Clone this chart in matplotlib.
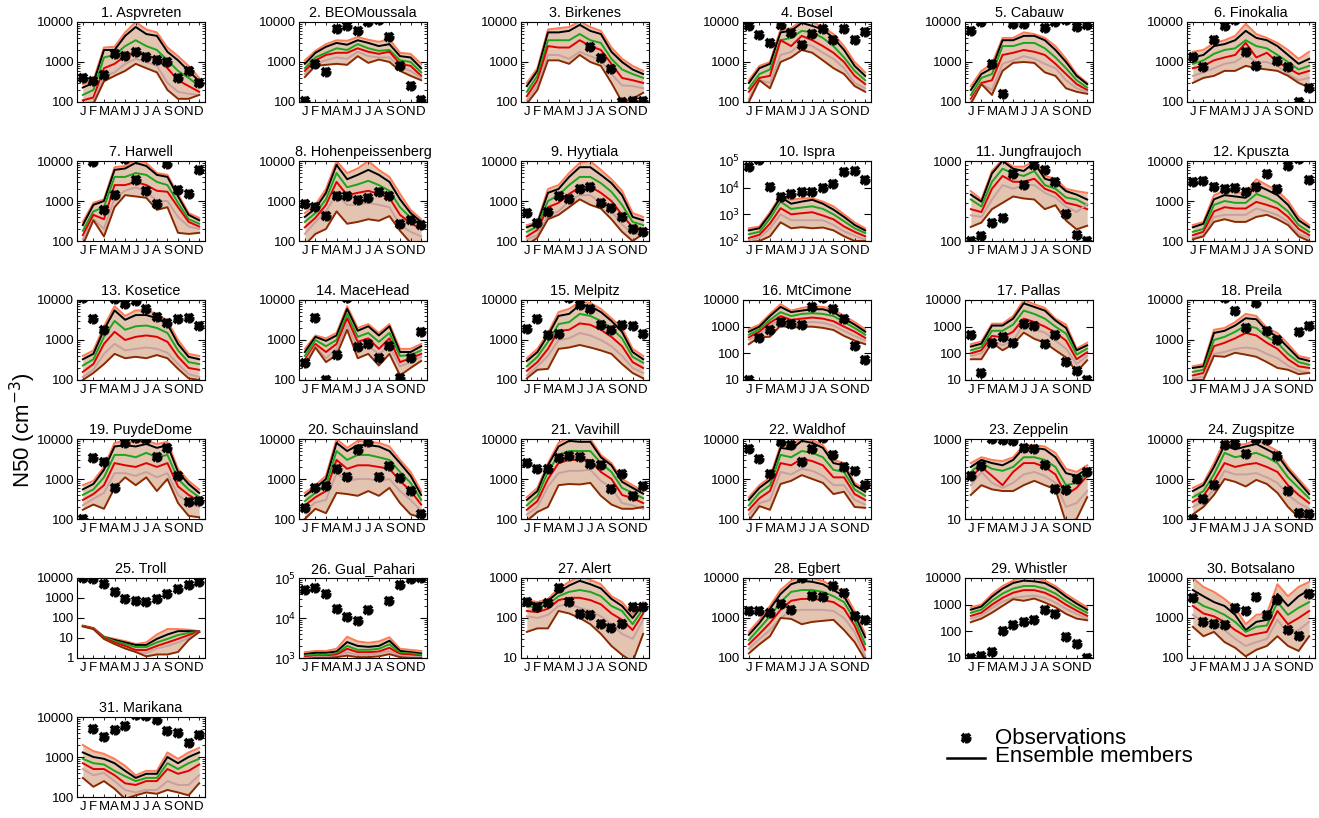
import numpy as np
import matplotlib
matplotlib.use("Agg")
import matplotlib.pyplot as plt
from matplotlib.ticker import LogLocator, FixedLocator, NullFormatter, FuncFormatter

plt.rcParams['font.family'] = ['Liberation Sans', 'DejaVu Sans']
nan = float('nan')

months = ['J', 'F', 'M', 'A', 'M', 'J', 'J', 'A', 'S', 'O', 'N', 'D']

stations = ['Aspvreten', 'BEOMoussala', 'Birkenes', 'Bosel', 'Cabauw', 'Finokalia',
            'Harwell', 'Hohenpeissenberg', 'Hyytiala', 'Ispra', 'Jungfraujoch', 'Kpuszta',
            'Kosetice', 'MaceHead', 'Melpitz', 'MtCimone', 'Pallas', 'Preila',
            'PuydeDome', 'Schauinsland', 'Vavihill', 'Waldhof', 'Zeppelin', 'Zugspitze',
            'Troll', 'Gual_Pahari', 'Alert', 'Egbert', 'Whistler', 'Botsalano',
            'Marikana']

ylo = [100, 100, 100, 100, 100, 100,
       100, 100, 100, 100, 100, 100,
       100, 100, 100, 10, 10, 100,
       100, 100, 100, 100, 10, 100,
       1, 1000, 10, 100, 10, 100,
       100]
yhi = [10000, 10000, 10000, 10000, 10000, 10000,
       10000, 10000, 10000, 100000, 1000, 10000,
       10000, 10000, 10000, 10000, 10000, 10000,
       10000, 10000, 10000, 10000, 1000, 10000,
       10000, 100000, 1000, 10000, 10000, 10000,
       10000]
power_labels = ['Ispra', 'Gual_Pahari']

obs = [
    [400, 330, 470, 1600, 1450, 1800, 1300, 1100, 1000, 400, 600, 300],
    [105, 900, 550, 6500, 7800, 6000, 10000, 11500, 4300, 800, 250, 110],
    [nan, nan, nan, nan, nan, nan, 2400, 1250, 650, 100, 105, 105],
    [8000, 4800, 3000, 8500, 5200, 2600, 5000, 6500, 3600, 6500, 3500, 5500],
    [6000, 10000, 900, 160, 9000, 9000, nan, 7200, 10000, 11000, 7500, 8500],
    [1300, 750, 3500, 8000, 11000, 1800, 800, nan, 1050, 750, 100, 230],
    [nan, 9500, 600, 1400, 11000, 3300, 1800, 850, 8500, 1900, 1500, 6000],
    [850, 700, 430, 1300, 1300, 1050, 1200, 1700, 1300, 260, 330, 250],
    [500, 280, 520, 1300, 1100, 2000, 2200, 900, 650, 400, 200, 170],
    [60000, 110000, 10500, 4500, 6000, 7000, 7000, 9500, 14000, 38000, 42000, 19000],
    [100, 115, 170, 195, 690, 500, 900, 780, 550, 220, 120, 100],
    [3000, 3100, 2300, 2000, 2100, 1700, 2300, 4700, 2000, 7500, 11000, 3300],
    [11000, 3300, 1800, 10500, 8000, 9500, 6000, 3800, 2600, 3400, 3500, 2200],
    [260, 3500, 100, 430, 11000, 650, 800, 350, 720, 110, 360, 1600],
    [1900, 3400, 1350, 1400, 11000, 7500, 6000, 2400, 1800, 2400, 2300, 1450],
    [10, 380, 780, 1500, 1300, 1150, 5500, 12000, 4800, 1900, 190, 55],
    [500, 18, 250, 420, 250, 1300, 1100, 230, 500, 48, 22, 10],
    [nan, nan, nan, 11000, 5300, 2000, 8500, 1700, 1000, nan, 1600, 2200],
    [100, 3300, 2700, 600, 8000, 10500, 10000, 3600, 5800, 1200, 260, 280],
    [190, 580, 680, 1800, 1100, 5200, 8500, 1100, 2100, 1050, 510, 130],
    [2500, 1750, 1800, 3300, 3800, 3600, 2400, 2300, 550, 1300, 370, 650],
    [5500, 3200, 1350, 8500, 7000, 2700, 5700, 10500, 4000, 1950, 1600, 720],
    [120, 210, 1000, 950, 900, 600, 560, 230, 55, 52, 100, 150],
    [100, 320, 700, 7000, 7500, 4300, 10000, 9200, 3800, 500, 140, 130],
    [9500, 8500, 5000, 2000, 900, 700, 650, 850, 1500, 2900, 4500, 6000],
    [50000, 55000, 40000, 17000, 10500, 8500, 16000, nan, 27000, 65000, 95000, 100000],
    [250, 190, 240, 550, 250, 125, 120, 72, 57, 70, 190, 190],
    [1500, 1500, 1350, 2300, 1600, 10000, 3500, 3300, 6200, 4200, 1150, 880],
    [10, 12, 17, 100, 170, 220, 270, 650, 430, 60, 33, 10],
    [3200, 800, 720, 650, 1750, 1500, 3400, 1200, 2900, 500, 350, 4000],
    [nan, 5000, 3100, 4700, 6000, 11000, 10500, 8200, 4500, 4000, 2300, 3500],
]

ens_top = [
    [280, 350, 2300, 2400, 5500, 10000, 6500, 5500, 2300, 1400, 800, 400],
    [1100, 1900, 2800, 3500, 3400, 4200, 3600, 3200, 3700, 1700, 1600, 900],
    [300, 700, 6500, 7000, 7500, 10500, 7500, 6000, 2300, 1200, 800, 600],
    [350, 800, 1000, 6500, 7000, 11000, 10000, 7500, 5000, 2500, 1000, 550],
    [250, 600, 900, 4000, 4000, 5500, 5000, 4000, 2500, 1200, 500, 300],
    [1800, 2000, 3000, 3500, 4500, 9000, 5000, 4000, 3000, 2000, 1200, 1800],
    [300, 900, 1100, 7000, 7500, 10500, 9000, 5000, 4500, 1500, 500, 380],
    [500, 800, 2000, 10000, 5000, 6500, 10000, 6000, 4000, 1500, 600, 350],
    [250, 300, 2000, 2500, 5000, 9000, 10000, 6000, 3500, 1800, 500, 400],
    [300, 350, 1200, 5000, 3500, 4000, 4000, 3000, 2000, 1000, 500, 300],
    [420, 330, 750, 1050, 850, 850, 1000, 650, 600, 450, 420, 400],
    [250, 300, 1400, 1800, 1700, 1500, 3500, 2500, 1800, 1000, 400, 250],
    [400, 550, 2200, 7000, 4000, 5500, 5500, 4500, 3000, 1000, 450, 400],
    [600, 1300, 1100, 1500, 7000, 2000, 2500, 1500, 2500, 600, 600, 800],
    [350, 600, 1500, 5000, 6000, 9000, 8500, 6000, 3500, 2000, 600, 400],
    [800, 1200, 3000, 7000, 4000, 5000, 6000, 5500, 4500, 2500, 1500, 800],
    [220, 280, 1300, 1300, 2500, 10000, 7000, 5000, 2000, 1200, 150, 250],
    [220, 250, 1800, 2000, 2800, 4500, 4000, 2000, 1500, 800, 400, 350],
    [700, 900, 2000, 8000, 9000, 8000, 9000, 7500, 8500, 1800, 900, 550],
    [450, 700, 1200, 10000, 6000, 9000, 8500, 8000, 6500, 3000, 1500, 500],
    [350, 600, 2500, 8000, 11000, 10000, 10000, 4000, 2500, 1000, 700, 500],
    [350, 700, 1100, 7000, 6500, 11000, 9500, 7000, 3000, 2500, 800, 550],
    [250, 350, 300, 280, 350, 700, 700, 650, 450, 180, 150, 220],
    [600, 800, 2500, 9000, 7000, 7500, 9500, 7000, 5000, 2000, 1000, 500],
    [42, 32, 12, 9, 7, 5, 6, 15, 28, 28, 26, 22],
    [1400, 1500, 1500, 1700, 3400, 2600, 2400, 2600, 3300, 1700, 1600, 1500],
    [280, 250, 300, 550, 800, 1100, 900, 700, 350, 250, 120, 250],
    [450, 900, 2000, 5000, 8500, 11000, 10000, 8500, 6000, 4500, 1500, 400],
    [800, 1000, 2500, 5000, 8000, 11000, 10000, 8000, 5000, 2500, 1400, 800],
    [10000, 6000, 4500, 3000, 1800, 700, 1200, 1300, 7000, 3500, 6000, 8000],
    [2000, 1400, 1200, 900, 600, 350, 450, 450, 1300, 900, 1300, 1700],
]

ens_upper = [
    [230, 300, 2000, 2000, 4500, 7500, 5000, 4500, 1800, 1100, 600, 330],
    [900, 1700, 2400, 3000, 2700, 3500, 3000, 2500, 2800, 1400, 1300, 700],
    [250, 600, 5500, 5500, 6000, 8500, 6000, 5000, 1800, 1000, 650, 500],
    [300, 700, 900, 5500, 6000, 9500, 8000, 6500, 4000, 2000, 800, 450],
    [200, 500, 700, 3500, 3500, 4500, 4500, 3500, 2000, 1000, 450, 280],
    [1300, 1500, 2500, 2800, 3500, 6000, 4000, 3500, 2500, 1500, 900, 1200],
    [250, 800, 1000, 6000, 6500, 9000, 7500, 4500, 4000, 1300, 450, 330],
    [400, 650, 1600, 8000, 3500, 4500, 6000, 4500, 3000, 1100, 500, 300],
    [220, 280, 1600, 2000, 4000, 7000, 7000, 4500, 2800, 1400, 400, 330],
    [250, 300, 1000, 4500, 2500, 3000, 3500, 2500, 1500, 800, 400, 250],
    [380, 310, 700, 1000, 800, 750, 950, 600, 550, 420, 380, 330],
    [220, 270, 1100, 1400, 1300, 1200, 2500, 1900, 1400, 800, 330, 220],
    [330, 450, 1800, 5500, 3200, 4200, 4200, 3500, 2500, 800, 380, 330],
    [500, 1200, 950, 1300, 6000, 1700, 2200, 1300, 2200, 500, 500, 700],
    [300, 500, 1300, 4000, 4500, 7500, 7000, 5000, 3000, 1600, 500, 330],
    [650, 1000, 2500, 5500, 3500, 4000, 4500, 4500, 3500, 2000, 1200, 650],
    [180, 230, 1100, 1100, 2000, 7500, 5500, 4000, 1700, 900, 130, 200],
    [200, 220, 1500, 1700, 2300, 3500, 3300, 1700, 1200, 650, 350, 300],
    [550, 750, 1700, 6500, 7000, 6500, 7500, 6000, 7000, 1500, 750, 450],
    [380, 600, 1000, 8000, 5000, 7000, 7000, 6500, 5000, 2500, 1200, 400],
    [300, 500, 2200, 6500, 9000, 8500, 8500, 3500, 2200, 850, 600, 430],
    [300, 600, 950, 6000, 5500, 9000, 8000, 6000, 2500, 2200, 700, 480],
    [200, 300, 250, 220, 300, 600, 600, 550, 350, 140, 120, 180],
    [500, 700, 2000, 7000, 5500, 6500, 7500, 5500, 4000, 1700, 850, 420],
    [40, 30, 11, 8, 6, 4.5, 4.5, 9, 15, 22, 22, 21],
    [1250, 1350, 1350, 1450, 2500, 2000, 1900, 2000, 2700, 1500, 1400, 1300],
    [250, 220, 270, 450, 650, 850, 700, 550, 300, 200, 100, 220],
    [380, 750, 1700, 4000, 7000, 8500, 8000, 7000, 5000, 3500, 1200, 330],
    [650, 850, 2000, 4000, 6500, 8000, 7500, 6500, 4000, 2000, 1100, 650],
    [5000, 3500, 2500, 2000, 1200, 500, 800, 900, 4000, 2000, 3500, 5000],
    [1300, 1000, 900, 700, 450, 300, 380, 380, 1000, 700, 1000, 1300],
]

ens_mid = [
    [150, 200, 1300, 1500, 2500, 3500, 2500, 2000, 1100, 600, 400, 250],
    [700, 1300, 1700, 2200, 2000, 2800, 2200, 1900, 2000, 1100, 1000, 550],
    [180, 450, 3500, 3500, 3500, 5000, 3500, 3000, 1200, 650, 500, 400],
    [220, 500, 650, 3500, 4000, 6000, 5500, 4000, 2500, 1300, 600, 350],
    [150, 400, 500, 2500, 2500, 3000, 3000, 2200, 1300, 700, 350, 230],
    [900, 1100, 1600, 2000, 2200, 3500, 2500, 2200, 1500, 1000, 650, 800],
    [180, 550, 700, 4000, 4000, 5000, 4500, 3000, 2500, 900, 350, 270],
    [300, 500, 1100, 5000, 2200, 2600, 3200, 2500, 1800, 700, 380, 250],
    [170, 230, 1000, 1400, 2500, 4000, 4000, 2800, 1700, 800, 300, 250],
    [180, 220, 700, 3000, 1600, 1800, 2000, 1600, 1000, 550, 300, 200],
    [330, 270, 550, 800, 700, 650, 750, 500, 450, 350, 330, 280],
    [170, 200, 800, 1000, 900, 900, 1500, 1200, 900, 550, 250, 170],
    [230, 330, 1200, 3000, 1800, 2200, 2300, 2000, 1500, 550, 280, 250],
    [400, 1000, 700, 1000, 4500, 1200, 1500, 900, 1500, 400, 420, 550],
    [220, 380, 900, 2500, 2800, 4500, 4000, 3000, 2000, 1100, 380, 270],
    [500, 800, 1800, 3500, 2500, 3000, 3200, 3000, 2500, 1500, 900, 500],
    [130, 170, 700, 700, 1200, 4000, 3000, 2000, 1000, 550, 90, 150],
    [160, 180, 1000, 1200, 1600, 2300, 2000, 1200, 850, 450, 280, 240],
    [400, 550, 1100, 4000, 4000, 3500, 4500, 3500, 4000, 1000, 550, 350],
    [280, 450, 700, 5000, 3000, 4000, 4000, 3500, 3000, 1500, 800, 300],
    [220, 380, 1500, 4000, 5000, 5000, 5000, 2500, 1500, 600, 450, 330],
    [220, 450, 700, 4000, 3500, 5000, 4500, 3500, 1700, 1500, 550, 380],
    [150, 250, 180, 160, 200, 350, 350, 300, 200, 70, 80, 140],
    [350, 500, 1300, 4500, 3500, 4000, 4500, 3500, 2500, 1100, 600, 330],
    [40, 30, 11, 7, 5, 3.5, 3.5, 6, 9, 14, 18, 20],
    [1150, 1200, 1200, 1300, 2000, 1600, 1600, 1700, 2200, 1350, 1300, 1200],
    [200, 180, 220, 350, 450, 500, 450, 350, 200, 150, 70, 170],
    [280, 550, 1100, 2500, 4500, 5000, 5000, 4500, 3500, 2500, 900, 220],
    [500, 650, 1400, 2600, 4000, 5000, 5000, 4000, 2600, 1400, 800, 500],
    [3000, 2000, 1600, 1200, 800, 450, 600, 650, 2500, 1200, 1800, 2500],
    [900, 700, 650, 450, 330, 250, 300, 300, 700, 500, 700, 900],
]

ens_lowmid = [
    [110, 130, 700, 900, 1400, 1800, 1500, 1200, 700, 350, 250, 180],
    [600, 1100, 1500, 1700, 1700, 2200, 1800, 1600, 1800, 900, 800, 450],
    [140, 350, 2500, 2300, 2300, 3500, 2500, 2000, 900, 400, 350, 300],
    [180, 400, 450, 3500, 2500, 4500, 3500, 2500, 1700, 1000, 450, 280],
    [120, 300, 350, 1500, 1700, 2000, 1800, 1500, 900, 500, 280, 200],
    [700, 800, 1100, 1300, 1500, 3000, 1300, 1700, 1000, 700, 500, 600],
    [140, 450, 350, 2500, 2500, 3000, 2500, 1800, 1700, 700, 300, 230],
    [220, 380, 800, 3000, 1400, 1600, 1800, 1500, 1200, 450, 280, 200],
    [130, 190, 700, 900, 1500, 2200, 2300, 1600, 1000, 450, 220, 200],
    [130, 170, 450, 1700, 1000, 1100, 1200, 900, 650, 350, 220, 150],
    [250, 230, 450, 650, 550, 550, 600, 450, 400, 300, 280, 250],
    [140, 170, 550, 700, 650, 650, 950, 800, 650, 400, 200, 140],
    [160, 250, 800, 1600, 1000, 1200, 1300, 1200, 900, 380, 200, 180],
    [320, 800, 500, 800, 3500, 900, 1100, 600, 1100, 280, 350, 450],
    [170, 280, 600, 1700, 1800, 2600, 2400, 1800, 1200, 700, 280, 200],
    [400, 650, 1400, 2500, 1800, 2000, 2200, 2000, 1600, 1000, 650, 380],
    [100, 130, 450, 400, 650, 2000, 1500, 1000, 600, 300, 60, 110],
    [130, 150, 700, 850, 1100, 1500, 1300, 850, 600, 330, 220, 200],
    [300, 420, 700, 2500, 2200, 2000, 2500, 2000, 2500, 650, 400, 280],
    [220, 350, 500, 3000, 1800, 2200, 2200, 2000, 1800, 900, 500, 230],
    [170, 280, 1000, 2500, 3000, 3000, 3000, 1500, 1000, 400, 330, 250],
    [170, 330, 500, 2500, 2200, 3200, 2800, 2200, 1100, 1100, 420, 300],
    [110, 200, 120, 70, 150, 250, 250, 200, 130, 40, 60, 120],
    [270, 380, 900, 2500, 2000, 2300, 2500, 2000, 1500, 700, 400, 250],
    [40, 30, 10, 6, 4, 2.5, 2.5, 4, 6, 9, 14, 20],
    [1050, 1100, 1100, 1200, 1700, 1400, 1400, 1450, 1800, 1250, 1200, 1100],
    [150, 140, 170, 280, 320, 320, 280, 220, 130, 90, 50, 130],
    [220, 400, 750, 1600, 2700, 3000, 3000, 2800, 2500, 1700, 650, 160],
    [380, 500, 1000, 1800, 2800, 3500, 3500, 2800, 1800, 1000, 600, 380],
    [2000, 1300, 1100, 800, 500, 350, 400, 450, 1500, 700, 1000, 1500],
    [700, 500, 500, 350, 220, 200, 250, 250, 500, 380, 450, 650],
]

ens_low = [
    [90, 100, 450, 550, 900, 1200, 1000, 800, 300, 180, 160, 150],
    [500, 900, 1100, 1300, 1200, 1800, 1400, 1300, 1300, 750, 600, 400],
    [110, 260, 1500, 1500, 1200, 1800, 1400, 1100, 500, 260, 250, 220],
    [120, 350, 300, 1500, 1800, 3000, 2500, 1700, 1200, 700, 300, 220],
    [100, 280, 200, 900, 1100, 1400, 1200, 900, 700, 350, 220, 180],
    [450, 550, 700, 900, 1000, 1500, 1000, 1000, 800, 500, 350, 400],
    [110, 350, 200, 1200, 1800, 2200, 1700, 1000, 1000, 400, 230, 200],
    [150, 300, 550, 1500, 800, 800, 900, 800, 700, 250, 170, 130],
    [110, 140, 450, 550, 1000, 1400, 1400, 900, 550, 260, 150, 150],
    [110, 130, 300, 1000, 600, 600, 600, 600, 400, 230, 160, 110],
    [210, 200, 330, 500, 450, 500, 500, 400, 350, 270, 230, 290],
    [120, 140, 400, 450, 450, 450, 650, 550, 450, 300, 150, 120],
    [120, 180, 450, 800, 550, 600, 650, 600, 480, 250, 140, 120],
    [280, 700, 350, 600, 2500, 600, 700, 450, 700, 220, 280, 380],
    [130, 220, 400, 1000, 1100, 1500, 1300, 1000, 700, 400, 200, 150],
    [330, 500, 1100, 1800, 1300, 1400, 1500, 1400, 1100, 700, 450, 300],
    [80, 100, 300, 200, 300, 1200, 800, 600, 300, 150, 40, 80],
    [110, 120, 450, 500, 600, 650, 600, 450, 350, 230, 170, 150],
    [220, 320, 450, 1400, 1400, 1200, 1500, 1100, 1400, 400, 250, 200],
    [160, 260, 300, 1400, 900, 1000, 1000, 900, 1000, 500, 300, 160],
    [130, 200, 650, 1400, 1600, 1600, 1700, 900, 600, 250, 220, 180],
    [130, 250, 300, 1500, 1300, 1800, 1600, 1200, 700, 700, 300, 230],
    [70, 150, 80, 60, 80, 130, 150, 120, 80, 20, 25, 50],
    [200, 280, 550, 1600, 1300, 1300, 1400, 1100, 800, 400, 250, 180],
    [38, 28, 9, 5, 3, 2, 1.8, 3, 4, 6, 10, 20],
    [1000, 1050, 1050, 1100, 1400, 1200, 1200, 1300, 1500, 1150, 1100, 1050],
    [110, 100, 120, 200, 220, 180, 150, 110, 70, 40, 30, 90],
    [170, 300, 500, 1000, 1500, 1600, 1600, 1600, 1500, 1000, 450, 110],
    [300, 400, 750, 1300, 1800, 2000, 2200, 1800, 1200, 700, 450, 300],
    [1200, 800, 700, 500, 300, 200, 250, 300, 900, 400, 500, 800],
    [500, 350, 400, 250, 150, 130, 150, 150, 250, 200, 200, 350],
]

ens_bot = [
    [80, 90, 330, 450, 600, 900, 700, 550, 200, 120, 120, 150],
    [420, 800, 850, 900, 850, 1400, 950, 1150, 1000, 600, 450, 350],
    [90, 200, 1100, 1100, 900, 1500, 1000, 800, 300, 100, 120, 170],
    [100, 350, 220, 1000, 1300, 2000, 1700, 1100, 700, 500, 250, 180],
    [90, 280, 150, 600, 950, 1000, 950, 550, 450, 220, 180, 160],
    [300, 400, 450, 600, 600, 800, 700, 650, 600, 450, 300, 230],
    [80, 330, 130, 700, 1400, 1300, 1200, 600, 700, 160, 150, 160],
    [80, 150, 200, 550, 270, 300, 350, 320, 420, 180, 90, 80],
    [80, 120, 350, 450, 700, 1100, 800, 650, 350, 170, 100, 150],
    [90, 100, 150, 500, 300, 330, 300, 320, 250, 150, 100, 100],
    [150, 170, 250, 300, 360, 340, 330, 250, 280, 180, 140, 155],
    [110, 130, 300, 350, 300, 300, 400, 450, 350, 250, 130, 100],
    [100, 150, 250, 450, 350, 380, 350, 420, 350, 190, 110, 100],
    [220, 650, 280, 420, 1800, 350, 450, 230, 450, 130, 200, 300],
    [110, 180, 190, 600, 650, 750, 650, 550, 450, 250, 150, 110],
    [220, 400, 420, 1100, 900, 1000, 1000, 900, 750, 450, 300, 220],
    [60, 60, 250, 130, 220, 600, 350, 250, 130, 70, 20, 55],
    [100, 100, 400, 380, 480, 430, 380, 280, 200, 180, 140, 150],
    [170, 230, 180, 600, 1100, 700, 1100, 500, 1000, 250, 120, 110],
    [100, 180, 140, 450, 420, 380, 500, 380, 600, 250, 130, 110],
    [90, 150, 200, 700, 750, 730, 800, 380, 230, 180, 180, 200],
    [90, 210, 170, 750, 900, 1250, 1000, 800, 420, 480, 200, 190],
    [40, 70, 55, 50, 50, 70, 90, 70, 55, 8, 10, 35],
    [130, 200, 400, 1000, 850, 650, 950, 750, 450, 200, 110, 110],
    [38, 28, 9, 5, 3, 2, 1.2, 1.5, 1.5, 2.0, 8, 20],
    [950, 1000, 1000, 1050, 1150, 1050, 1050, 1100, 1250, 1050, 1000, 1000],
    [45, 55, 55, 150, 130, 100, 70, 40, 20, 12, 8, 40],
    [130, 220, 350, 1000, 950, 700, 800, 850, 900, 500, 250, 90],
    [220, 300, 500, 900, 1600, 1400, 1700, 1200, 800, 450, 300, 260],
    [600, 350, 450, 250, 180, 110, 160, 200, 350, 200, 150, 350],
    [300, 180, 250, 160, 90, 110, 130, 120, 150, 130, 110, 220],
]

member_sets = [ens_top, ens_upper, ens_mid, ens_lowmid, ens_low, ens_bot]
member_colors = ['#ff7a55', '#000000', '#1aa51a', '#e00000', '#c9a0a0', '#8b2a00']


def draw_obs(ax, xs, ys, **kw):
    ax.plot(xs, ys, ls='none', marker='x', ms=5.5, mew=2.8, color='black', **kw)
    ax.plot(xs, ys, ls='none', marker='+', ms=7, mew=2.0, color='black', **kw)


W, H = 1319, 818
fig = plt.figure(figsize=(W / 100, H / 100), dpi=100)

left0, colstep, boxw = 77, 222, 128
top0, rowstep, boxh = 22, 139, 80
x = np.arange(12)

for i, name in enumerate(stations):
    r, c = divmod(i, 6)
    l = left0 + c * colstep
    t = top0 + r * rowstep
    ax = fig.add_axes([l / W, 1 - (t + boxh) / H, boxw / W, boxh / H])
    ax.set_yscale('log')
    band = np.array([m[i] for m in member_sets], dtype=float)
    ax.fill_between(x, band[-1], band[0], color='#c98a62', alpha=0.5, lw=0, zorder=1)
    for vals, col in zip(member_sets, member_colors):
        ax.plot(x, vals[i], color=col, lw=1.4, zorder=2)
    draw_obs(ax, x, obs[i], zorder=5)
    ax.set_xlim(-0.55, 11.55)
    ax.set_ylim(ylo[i], yhi[i])
    ax.set_title(f'{i + 1}. {name}', fontsize=10.4, pad=3.5)
    ax.set_xticks(x)
    ax.set_xticklabels(months, fontsize=9.5)
    decades = 10.0 ** np.arange(np.log10(ylo[i]), np.log10(yhi[i]) + 0.5)
    ax.yaxis.set_major_locator(FixedLocator(decades))
    ax.yaxis.set_minor_locator(LogLocator(base=10, subs=np.arange(2, 10)))
    ax.yaxis.set_minor_formatter(NullFormatter())
    if name in power_labels:
        ax.yaxis.set_major_formatter(FuncFormatter(
            lambda v, p: r'10$^{%d}$' % int(round(np.log10(v)))))
    else:
        ax.yaxis.set_major_formatter(FuncFormatter(lambda v, p: '%d' % int(round(v))))
    ax.tick_params(axis='y', which='major', labelsize=9.5, direction='in',
                   length=5, right=True, width=0.8, pad=2)
    ax.tick_params(axis='y', which='minor', direction='in', length=2.5,
                   right=True, width=0.6)
    ax.tick_params(axis='x', direction='in', length=2.5, top=True, width=0.6, pad=3)
    for s in ax.spines.values():
        s.set_linewidth(0.8)

fig.text(0.017, 0.474, 'N50 (cm$^{-3}$)', rotation=90, fontsize=16,
         ha='center', va='center')

# legend
lax = fig.add_axes([940 / W, 1 - 770 / H, 60 / W, 45 / H])
lax.set_xlim(0, 60)
lax.set_ylim(45, 0)
lax.axis('off')
draw_obs(lax, [26], [13], clip_on=False)
lax.plot([7, 45], [33, 33], color='black', lw=1.8)
fig.text(995 / W, 1 - 738 / H, 'Observations', fontsize=16, va='center', ha='left')
fig.text(995 / W, 1 - 757 / H, 'Ensemble members', fontsize=16, va='center', ha='left')

fig.savefig('out.png', dpi=100)
